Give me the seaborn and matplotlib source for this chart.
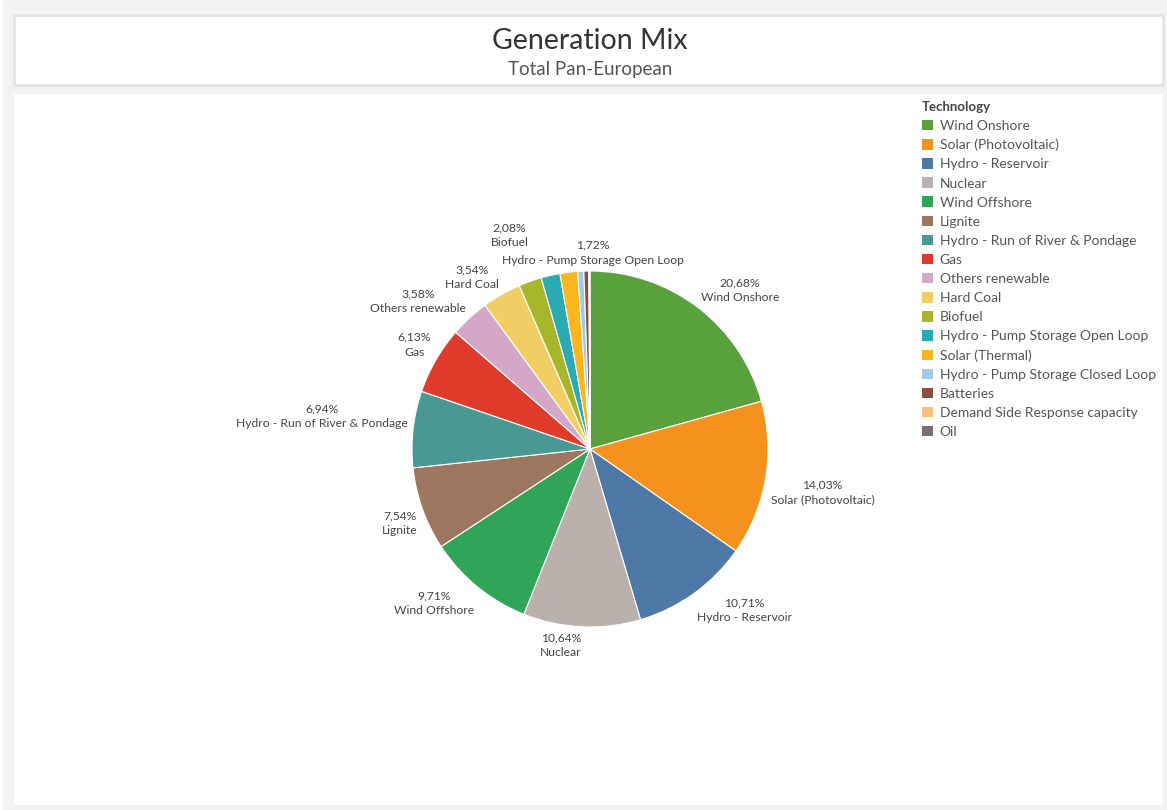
import numpy as np
import matplotlib
matplotlib.use("Agg")
import matplotlib.pyplot as plt
from matplotlib.patches import Rectangle, Patch
import seaborn as sns

# ---- data ----
technologies = [
    "Wind Onshore", "Solar (Photovoltaic)", "Hydro - Reservoir", "Nuclear",
    "Wind Offshore", "Lignite", "Hydro - Run of River & Pondage", "Gas",
    "Others renewable", "Hard Coal", "Biofuel", "Hydro - Pump Storage Open Loop",
    "Solar (Thermal)", "Hydro - Pump Storage Closed Loop", "Batteries",
    "Demand Side Response capacity", "Oil",
]
shares = [20.68, 14.03, 10.71, 10.64, 9.71, 7.54, 6.94, 6.13, 3.58, 3.54,
          2.08, 1.72, 1.60, 0.55, 0.45, 0.05, 0.05]
colors = ["#59a13a", "#f5911d", "#4e79a7", "#bab0ac", "#31a557", "#9d7660",
          "#499894", "#e03a2b", "#d4a6c8", "#f1ce63", "#a6b829", "#2aaab3",
          "#fbb51d", "#a0cbe8", "#8a4f3f", "#ffbe7d", "#79706e"]
n_labeled = 12

sns.set_theme(style="white")
plt.rcParams["font.family"] = ["Lato", "DejaVu Sans"]

W, H = 1167, 810
fig = plt.figure(figsize=(W / 100, H / 100), dpi=100)
fig.patch.set_facecolor("#f3f3f3")

def box(x0, y0, x1, y1, fc, ec="none", lw=0):
    fig.patches.append(Rectangle((x0 / W, 1 - y1 / H), (x1 - x0) / W, (y1 - y0) / H,
                                 transform=fig.transFigure, facecolor=fc,
                                 edgecolor=ec, linewidth=lw, zorder=-10))

box(0, 0, 3, H, "#ffffff")
box(14, 15, 1163, 85, "#ffffff", "#e4e4e4", 2)
box(14, 94, 1163, 805, "#ffffff")

fig.text(590 / W, 1 - 41 / H, "Generation Mix", ha="center", va="center",
         fontsize=20.5, color="#333333")
fig.text(590 / W, 1 - 70 / H, "Total Pan-European", ha="center", va="center",
         fontsize=13.5, color="#555555")

# ---- pie ----
cx, cy, R = 590, 449, 178
ax = fig.add_axes([(cx - R) / W, 1 - (cy + R) / H, 2 * R / W, 2 * R / H])
ax.set_zorder(1)
wedges, _ = ax.pie(shares, colors=colors, startangle=90, counterclock=False,
                   radius=1, wedgeprops=dict(edgecolor="white", linewidth=0.8))
ax.set_xlim(-1, 1)
ax.set_ylim(-1, 1)
ax.set_aspect("equal")
ax.axis("off")

total = sum(shares)
cum = np.cumsum([0] + shares[:-1])
nudges = {10: (0.0, 0.16, None), 11: (0.245, 0.025, "center")}
txt_kw = dict(fontsize=8.7, color="#444444", clip_on=False)
for i in range(n_labeled):
    mid = (cum[i] + shares[i] / 2) / total * 2 * np.pi
    sx, sy = np.sin(mid), np.cos(mid)
    x, y = 1.03 * sx, 1.03 * sy
    ha = "left" if sx > 0 else "right"
    va = "bottom" if sy > 0 else "top"
    if i in nudges:
        dx, dy, h = nudges[i]
        x += dx
        y += dy
        if h:
            ha = h
    pct = f"{shares[i]:.2f}%".replace(".", ",")
    if i == 11:
        # two separate lines so the wide name sits under Biofuel's label
        ax.text(x, y, technologies[i], ha=ha, va="bottom", **txt_kw)
        ax.text(x, y + 0.085, pct, ha=ha, va="bottom", **txt_kw)
    else:
        ax.text(x, y, pct + "\n" + technologies[i], ha=ha, va=va,
                multialignment="center", linespacing=1.4, **txt_kw)

# ---- legend ----
handles = [Patch(facecolor=c, edgecolor="none") for c in colors]
leg = fig.legend(handles, technologies, title="Technology", loc="upper left",
                 bbox_to_anchor=(919 / W, 1 - 98 / H), frameon=False,
                 fontsize=10, title_fontsize=9.5, handlelength=0.8,
                 handleheight=0.8, handletextpad=0.5, labelspacing=0.5,
                 borderaxespad=0, borderpad=0.2)
leg._legend_box.align = "left"
leg.get_title().set_fontweight("bold")
leg.get_title().set_color("#444444")
for t in leg.get_texts():
    t.set_color("#555555")

fig.savefig("out.png", dpi=100, facecolor=fig.get_facecolor())
